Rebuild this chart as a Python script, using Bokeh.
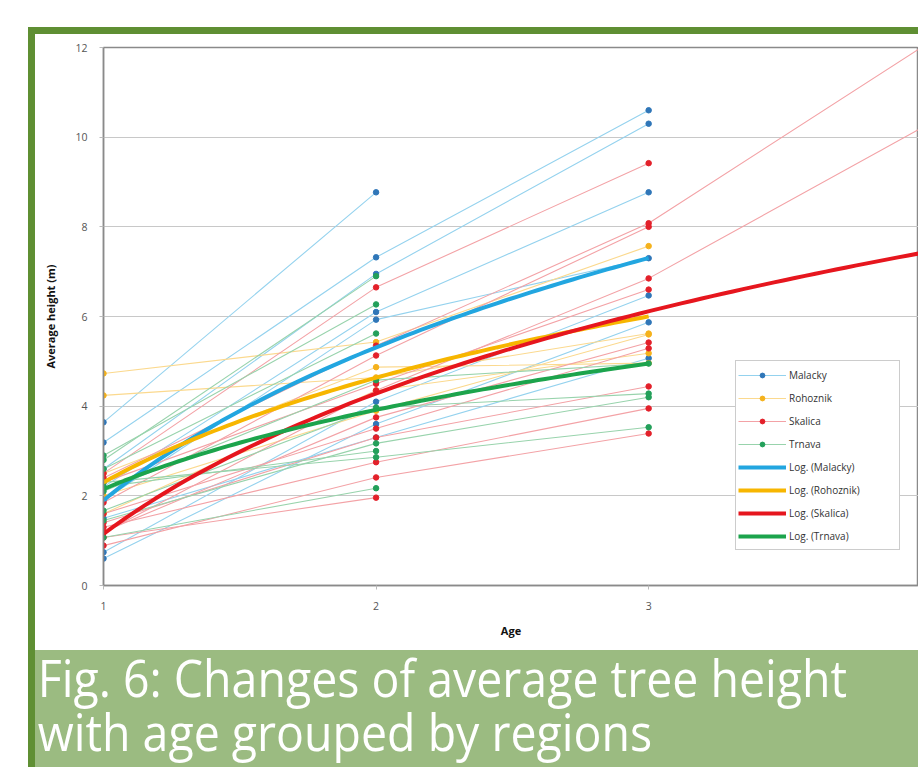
import numpy as np
from bokeh.plotting import figure
from bokeh.models import Range1d, Legend, LegendItem, Div, FixedTicker
from bokeh.layouts import column, row
from bokeh.embed import file_html
from bokeh.resources import INLINE

# ---------------- data ----------------
ages = [1, 2, 3, 4]
x_ticks = [1, 2, 3, 4]
y_ticks = [0, 2, 4, 6, 8, 10, 12]

# each row: average height at age 1, 2, 3, 4 (None = no value)
malacky = [
    [3.64, 8.77, None, None],
    [3.19, 7.32, 10.6, None],
    [2.60, 6.95, 10.3, None],
    [2.20, 6.10, 8.77, None],
    [1.90, 5.93, 7.30, None],
    [0.74, 4.10, 6.47, None],
    [0.60, 3.60, 5.87, None],
    [1.50, 3.30, 5.07, None],
]
rohoznik = [
    [4.73, 5.43, 7.57, None],
    [4.24, 4.64, 5.62, None],
    [2.50, 4.87, 4.96, None],
    [1.60, 4.35, 5.18, None],
    [2.00, 3.90, 5.60, None],
]
skalica = [
    [2.50, 6.65, 9.42, None],
    [2.40, 5.35, 8.08, 12.0],
    [1.85, 5.13, 8.00, None],
    [1.18, 4.35, 6.85, 10.2],
    [1.07, 1.96, None, None],
    [0.89, 2.41, 3.39, None],
    [1.30, 2.75, 3.95, None],
    [1.40, 3.30, 4.44, None],
    [1.60, 3.50, 5.29, None],
    [1.20, 3.75, 5.42, None],
    [2.30, 4.50, 6.60, None],
    [None, None, None, 8.60],
]
trnava = [
    [2.80, 6.90, None, None],
    [2.90, 6.27, None, None],
    [2.60, 5.62, None, None],
    [2.10, 4.58, 4.95, None],
    [1.67, 3.97, 4.28, None],
    [1.45, 3.17, 4.20, None],
    [2.30, 2.86, 3.53, None],
    [1.07, 2.17, None, None],
    [2.20, 3.00, None, None],
]

group_names = ["Malacky", "Rohoznik", "Skalica", "Trnava"]
# logarithmic trend lines  y = a + b*ln(age)
trend_a = [1.90, 2.30, 1.15, 2.15]
trend_b = [4.92, 3.37, 4.52, 2.55]
trend_end = [3.0, 3.0, 3.99, 3.0]

caption_lines = ["Fig. 6: Changes of average tree height",
                 "with age grouped by regions"]

# ---------------- styles ----------------
line_colors = ["#94d2ee", "#fbd98e", "#f3a2a6", "#98d3ac"]
marker_colors = ["#2f76b8", "#f5b21c", "#e3202a", "#23a05a"]
trend_colors = ["#22a6e0", "#f7b600", "#e6161e", "#1ca44c"]
DARK_GREEN = "#5f8f33"
LIGHT_GREEN = "#9bbb81"

p = figure(width=883, height=616, output_backend="svg", toolbar_location=None,
           x_range=Range1d(1, 3.99), y_range=Range1d(0, 12),
           min_border_left=68, min_border_right=0, min_border_top=13,
           min_border_bottom=65)
p.background_fill_color = "white"
p.border_fill_color = "white"
p.outline_line_color = "#8a8a8a"
p.outline_line_width = 1.5

p.xaxis.ticker = FixedTicker(ticks=x_ticks)
p.yaxis.ticker = FixedTicker(ticks=y_ticks)
p.xgrid.visible = False
p.ygrid.grid_line_color = "#c8c8c8"
p.ygrid.grid_line_width = 1
for ax in (p.xaxis[0], p.yaxis[0]):
    ax.axis_line_color = "#8a8a8a"
    ax.axis_line_width = 1.5
    ax.major_tick_line_color = "#bbbbbb"
    ax.major_tick_out = 4
    ax.major_tick_in = 0
    ax.minor_tick_line_color = None
    ax.major_label_text_font = "Open Sans"
    ax.major_label_text_font_size = "10.5px"
    ax.major_label_text_color = "#555555"
    ax.axis_label_text_font = "Open Sans"
    ax.axis_label_text_font_size = "11px"
    ax.axis_label_text_font_style = "bold"
    ax.axis_label_text_color = "#111111"
p.xaxis.axis_label = "Age"
p.yaxis.axis_label = "Average height (m)"
p.xaxis.major_label_standoff = 12
p.xaxis.axis_label_standoff = 10
p.yaxis.major_label_standoff = 12
p.yaxis.axis_label_standoff = 14

groups = [malacky, rohoznik, skalica, trnava]
series_items = []
for gi, series in enumerate(groups):
    xs, ys, px, py = [], [], [], []
    for s in series:
        xx = [a for a, v in zip(ages, s) if v is not None]
        yy = [v for v in s if v is not None]
        xs.append(xx)
        ys.append(yy)
        px += xx
        py += yy
    lr = p.multi_line(xs, ys, line_color=line_colors[gi], line_width=1.1)
    series_items.append((lr, px, py))

scatter_rs = []
for gi, (lr, px, py) in enumerate(series_items):
    sr = p.scatter(px, py, size=5.5, fill_color=marker_colors[gi],
                   line_color=marker_colors[gi])
    scatter_rs.append(sr)

trend_rs = []
for gi in range(4):
    tx = np.linspace(1, trend_end[gi], 80)
    ty = trend_a[gi] + trend_b[gi] * np.log(tx)
    tr = p.line(tx, ty, line_color=trend_colors[gi], line_width=4)
    trend_rs.append(tr)

items = []
for gi in range(4):
    items.append(LegendItem(label=group_names[gi],
                            renderers=[series_items[gi][0], scatter_rs[gi]]))
for gi in range(4):
    items.append(LegendItem(label="Log. (" + group_names[gi] + ")",
                            renderers=[trend_rs[gi]]))

legend = Legend(items=items, location=(632, 35), orientation="vertical",
                label_text_font="Open Sans", label_text_font_size="10px",
                label_text_color="#333333", label_height=23, glyph_height=12,
                glyph_width=48, label_width=108, label_standoff=3,
                spacing=0, padding=2, margin=0,
                border_line_color="#9a9a9a", border_line_width=1,
                background_fill_color="white", background_fill_alpha=1)
p.add_layout(legend, "center")

# ---------------- caption ----------------
caption_html = (
    '<div style="padding-left:3px;font-family:\'Open Sans\',sans-serif;'
    'font-weight:400;font-size:52px;line-height:54px;color:#ffffff;'
    'white-space:nowrap;transform:scaleX(0.894);transform-origin:0 0;">'
    + caption_lines[0] + "<br>" + caption_lines[1] + "</div>"
)
cap = Div(text=caption_html, width=883, height=117, margin=0,
          styles={"background-color": LIGHT_GREEN})

# ---------------- frame / page layout ----------------
top_white = Div(text="", width=918, height=27, margin=0)
left_white = Div(text="", width=28, height=740, margin=0)
green_left = Div(text="", width=7, height=740, margin=0,
                 styles={"background-color": DARK_GREEN})
green_top = Div(text="", width=883, height=7, margin=0,
                styles={"background-color": DARK_GREEN})

page = column(top_white,
              row(left_white, green_left,
                  column(green_top, p, cap, spacing=0),
                  spacing=0),
              spacing=0)

open("out.html", "w").write(file_html(page, INLINE))
